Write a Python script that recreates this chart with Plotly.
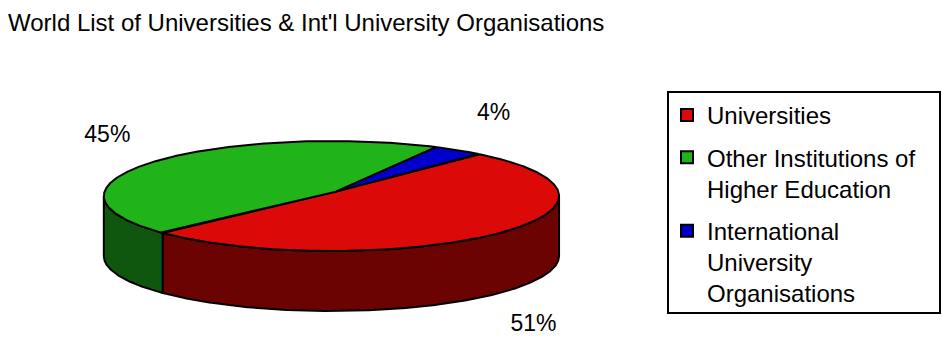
import numpy as np
import plotly.graph_objects as go

# ---- data ----
categories = ["Universities", "Other Institutions of Higher Education", "International University Organisations"]
legend_labels = ["Universities", "Other Institutions of<br>Higher Education", "International<br>University<br>Organisations"]
values = [50.8, 45.3, 3.9]
top_colors = ["#DC0909", "#21B31A", "#0000CC"]
side_colors = ["#6B0303", "#0F560F", "#000066"]
title_text = "World List of Universities & Int'l University Organisations"

# ---- 3D pie geometry (pixel space) ----
W, H = 942, 337
VX, VY = 336.0, 191.6      # projected pie centre
A, B = 226.8, 54.65        # horizontal / vertical scale of the disc
KJ, KK = 0.02, 0.08        # perspective terms
DEPTH = 60.0
START_DEG = 47.6           # first slice starts here, slices go clockwise
LCX, LCY = 331.5, 196.0    # label ellipse centre
LRX, LRY, LDEPTH = 280.0, 100.0, 60.0   # label placement

total = sum(values)
spans = [v / total * 360.0 for v in values]


def proj(theta_deg):
    t = np.radians(theta_deg)
    c, s = np.cos(t), np.sin(t)
    w = 1 + KJ * c + KK * s
    return VX + A * c / w, VY - B * s / w


# visible front arc: between leftmost and rightmost silhouette points
tt = np.linspace(0, 360, 7201)
X_all, _ = proj(tt)
th_left = tt[np.argmin(X_all)]          # ~185
th_right = tt[np.argmax(X_all)]         # ~355
if th_right < th_left:
    th_right += 360


def front_range(a0, a1):
    """intersection of clockwise slice [a1, a0] with front arc [th_left, th_right]."""
    lo, hi = a1, a0
    for shift in (-720, -360, 0, 360, 720):
        l2, h2 = lo + shift, hi + shift
        s_lo, s_hi = max(l2, th_left), min(h2, th_right)
        if s_hi > s_lo:
            return s_hi, s_lo
    return None


ranges = []
a = START_DEG
for s in spans:
    ranges.append((a, a - s))
    a -= s

fig = go.Figure()

# side walls
for (a0, a1), col in zip(ranges, side_colors):
    fr = front_range(a0, a1)
    if fr is None:
        continue
    th = np.linspace(fr[0], fr[1], int(abs(fr[0] - fr[1]) * 4) + 2)
    xs, ys = proj(th)
    px = np.concatenate([xs, xs[::-1], xs[:1]])
    py = np.concatenate([ys, ys[::-1] + DEPTH, ys[:1]])
    fig.add_trace(go.Scatter(x=px, y=py, mode="lines", fill="toself",
                             fillcolor=col, line=dict(color="black", width=2),
                             hoverinfo="skip", showlegend=False))

# top faces
for (a0, a1), col, name in zip(ranges, top_colors, categories):
    th = np.linspace(a0, a1, int(abs(a0 - a1) * 4) + 2)
    xs, ys = proj(th)
    px = np.concatenate([[VX], xs, [VX]])
    py = np.concatenate([[VY], ys, [VY]])
    fig.add_trace(go.Scatter(x=px, y=py, mode="lines", fill="toself",
                             fillcolor=col, line=dict(color="black", width=2),
                             name=name, hoverinfo="name", showlegend=False))

# percentage labels
lx, ly, lt = [], [], []
for (a0, a1), v in zip(ranges, values):
    m = np.radians((a0 + a1) / 2)
    lx.append(LCX + LRX * np.cos(m))
    ly.append(LCY - LRY * np.sin(m) + (LDEPTH if np.sin(m) < 0 else 0))
    lt.append(f"{round(v / total * 100)}%")
fig.add_trace(go.Scatter(x=lx, y=ly, text=lt, mode="text", textposition="middle center",
                         textfont=dict(size=23, color="black"), hoverinfo="skip", showlegend=False))

# legend entries
for lab, col in zip(legend_labels, top_colors):
    fig.add_trace(go.Scatter(x=[None], y=[None], mode="markers", name=lab, legendgroup=lab,
                             marker=dict(symbol="square", size=14, color=col,
                                         line=dict(color="black", width=2))))

fig.update_layout(
    width=W, height=H,
    margin=dict(l=0, r=0, t=0, b=0),
    paper_bgcolor="white", plot_bgcolor="white",
    font=dict(family="Liberation Sans, Arial, sans-serif", color="black", size=24),
    title=dict(text=title_text, x=8 / W, xanchor="left", xref="paper",
               y=1 - 23 / H, yanchor="middle", yref="paper",
               font=dict(size=24, color="black")),
    xaxis=dict(range=[0, W], visible=False, fixedrange=True),
    yaxis=dict(range=[H, 0], visible=False, fixedrange=True),
    legend=dict(x=667 / W, y=1 - 93 / H, xanchor="left", yanchor="top",
                borderwidth=0, bgcolor="rgba(0,0,0,0)",
                font=dict(size=24, color="black"), tracegroupgap=8,
                traceorder="grouped", valign="top", itemsizing="constant"),
    shapes=[dict(type="rect", xref="paper", yref="paper",
                 x0=668 / W, x1=940 / W, y0=1 - 92 / H, y1=1 - 313 / H,
                 line=dict(color="black", width=2), fillcolor="rgba(0,0,0,0)")],
    showlegend=True,
)

fig.write_html("out.html")
